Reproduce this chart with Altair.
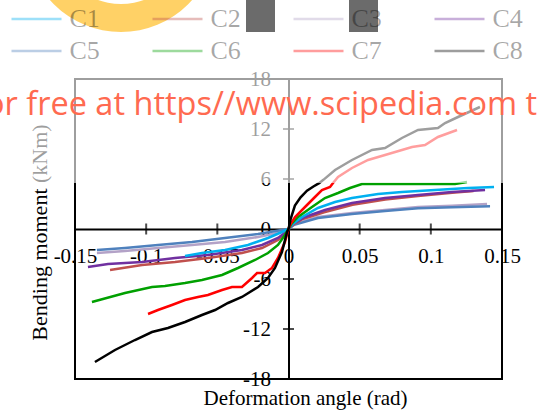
import altair as alt
import pandas as pd

SERIF = "Liberation Serif"

names = ["C1", "C2", "C3", "C4", "C5", "C6", "C7", "C8"]
colors = ["#00B0F0", "#C0504D", "#B3A2C7", "#7030A0", "#4F81BD", "#00A000", "#FF0000", "#000000"]
draw_order = ["C3", "C5", "C2", "C4", "C1", "C6", "C7", "C8"]

x_tick_labels = [-0.15, -0.1, -0.05, 0, 0.05, 0.1, 0.15]
y_tick_labels = [-18, -12, -6, 0, 6, 12, 18]
x_cross_ticks = [-0.1, -0.05, 0.05, 0.1]
y_cross_ticks = [-12, -6, 6, 12]

c1_x = [-0.0727, -0.0608, -0.0446, -0.0285, -0.0144, -0.0046, 0, 0.003, 0.0095, 0.0207, 0.0327, 0.0446, 0.0629, 0.0797, 0.1029, 0.1261, 0.1444]
c1_y = [-3.24, -2.88, -2.52, -1.92, -1.08, -0.36, 0, 0.6, 1.44, 2.52, 3.24, 3.72, 4.2, 4.44, 4.68, 4.92, 5.04]

c2_x = [-0.1254, -0.1029, -0.0797, -0.0566, -0.0327, -0.0186, -0.0074, -0.002, 0, 0.003, 0.01, 0.025, 0.045, 0.068, 0.091, 0.115, 0.13]
c2_y = [-4.92, -4.32, -3.96, -3.48, -2.88, -2.28, -1.32, -0.5, 0, 0.5, 1.2, 2.0, 2.9, 3.55, 3.95, 4.35, 4.55]

c3_x = [-0.1346, -0.1149, -0.0917, -0.0678, -0.0446, -0.0214, -0.0046, 0, 0.004, 0.0207, 0.0446, 0.0678, 0.091, 0.1149, 0.1395]
c3_y = [-2.88, -2.64, -2.28, -1.92, -1.56, -0.96, -0.36, 0, 0.6, 1.44, 1.92, 2.28, 2.64, 2.8, 3.0]

c4_x = [-0.1409, -0.1268, -0.1029, -0.0797, -0.0566, -0.0327, -0.0186, -0.0074, -0.002, 0, 0.003, 0.0116, 0.0256, 0.0446, 0.0678, 0.091, 0.1149, 0.1381]
c4_y = [-4.56, -4.2, -3.96, -3.48, -3.12, -2.52, -1.92, -1.08, -0.4, 0, 0.6, 1.44, 2.28, 3.12, 3.72, 4.08, 4.44, 4.68]

c5_x = [-0.1346, -0.1149, -0.0917, -0.0678, -0.0446, -0.0214, -0.0046, 0, 0.004, 0.0207, 0.0446, 0.0678, 0.091, 0.1149, 0.1416]
c5_y = [-2.52, -2.28, -1.92, -1.56, -1.08, -0.6, -0.12, 0, 0.5, 1.32, 1.8, 2.16, 2.5, 2.62, 2.72]

c6_x = [-0.1381, -0.1149, -0.0959, -0.0868, -0.0727, -0.0608, -0.0467, -0.0355, -0.0235, -0.0144, -0.0074, -0.0025, 0, 0.002, 0.0067, 0.0165, 0.0256, 0.0348, 0.0432, 0.0516, 0.0678, 0.091, 0.117, 0.1254]
c6_y = [-8.76, -7.68, -6.96, -6.84, -6.48, -6.12, -5.52, -4.68, -3.72, -2.88, -1.92, -0.72, 0, 0.6, 1.44, 2.64, 3.72, 4.32, 4.92, 5.4, 5.4, 5.4, 5.4, 5.64]

c7_x = [-0.0987, -0.0917, -0.0819, -0.0727, -0.0636, -0.0566, -0.0467, -0.0397, -0.0327, -0.0256, -0.0221, -0.0165, -0.0116, -0.0074, -0.0025, 0, 0.0015, 0.0046, 0.0116, 0.0186, 0.0235, 0.0292, 0.0313, 0.0348, 0.0446, 0.0559, 0.0678, 0.0797, 0.0868, 0.0959, 0.105, 0.1184]
c7_y = [-10.2, -9.72, -9.12, -8.52, -8.16, -7.92, -7.32, -6.96, -6.96, -5.88, -5.28, -5.28, -4.68, -3.48, -1.56, 0, 0.6, 1.44, 2.64, 3.84, 4.68, 5.04, 5.52, 6.24, 7.32, 8.28, 8.88, 9.48, 9.84, 10.08, 11.04, 11.88]

c8_x = [-0.136, -0.1219, -0.1079, -0.0959, -0.0847, -0.0727, -0.0608, -0.0516, -0.0425, -0.0327, -0.0214, -0.0144, -0.0095, -0.0046, -0.001, 0, 0.0015, 0.0045, 0.0085, 0.013, 0.0175, 0.0215, 0.0245, 0.0327, 0.0446, 0.0587, 0.0678, 0.0797, 0.091, 0.105, 0.11, 0.1191, 0.1345]
c8_y = [-15.96, -14.52, -13.32, -12.36, -11.88, -11.16, -10.32, -9.72, -8.88, -8.16, -6.96, -5.88, -4.68, -2.76, -0.36, 0, 1.2, 2.8, 3.8, 4.6, 5.1, 5.5, 5.9, 7.08, 8.28, 9.48, 9.72, 10.92, 11.88, 12.12, 12.72, 13.44, 14.64]

series_x = [c1_x, c2_x, c3_x, c4_x, c5_x, c6_x, c7_x, c8_x]
series_y = [c1_y, c2_y, c3_y, c4_y, c5_y, c6_y, c7_y, c8_y]

rows = []
for nm, xs, ys in zip(names, series_x, series_y):
    for a, b in zip(xs, ys):
        rows.append({"series": nm, "x": a, "y": b})
df = pd.DataFrame(rows)

xt_df = pd.DataFrame({"x": x_cross_ticks, "y": [0] * len(x_cross_ticks)})
yt_df = pd.DataFrame({"x": [0] * len(y_cross_ticks), "y": y_cross_ticks})
one = pd.DataFrame({"k": [0]})

x_axis = alt.Axis(
    orient="bottom", offset=-150, values=x_tick_labels, labelExpr="'' + datum.value",
    ticks=False, tickSize=0, grid=False, domainColor="black", domainWidth=2,
    labelFont=SERIF, labelFontSize=21, labelColor="black", labelPadding=16,
    labelFlush=False, labelOverlap=False,
    title="Deformation angle (rad)", titleFont=SERIF, titleFontSize=21,
    titleFontWeight="normal", titleColor="black", titleX=230, titleY=175,
    titleBaseline="alphabetic", titleAlign="center",
)
y_axis = alt.Axis(
    orient="left", offset=-213.5, values=y_tick_labels, labelExpr="'' + datum.value",
    ticks=False, tickSize=0, grid=False, domainColor="black", domainWidth=2,
    labelFont=SERIF, labelFontSize=21, labelColor="black", labelPadding=18,
    labelFlush=False, labelOverlap=False,
    title="Bending moment (kNm)", titleFont=SERIF, titleFontSize=22,
    titleFontWeight="normal", titleColor="black", titleX=-242, titleY=153,
    titleBaseline="alphabetic", titleAlign="center", titleAngle=270,
)

x_enc = alt.X("x:Q", scale=alt.Scale(domain=[-0.15, 0.15], nice=False, zero=False), axis=x_axis)
y_enc = alt.Y("y:Q", scale=alt.Scale(domain=[-18, 18], nice=False, zero=False), axis=y_axis)

legend = alt.Legend(
    orient="none", legendX=-65, legendY=-74, direction="horizontal", columns=4,
    symbolType="M-2,0H2", symbolSize=625, symbolOffset=12.5, symbolStrokeWidth=2.5,
    symbolOpacity=0.38,
    labelFont=SERIF, labelFontSize=26, labelColor="black", labelOpacity=0.35,
    labelOffset=19, columnPadding=47, rowPadding=5, title=None, padding=0,
)
color = alt.Color("series:N", scale=alt.Scale(domain=names, range=colors), legend=legend)

layers = []
for s in draw_order:
    layers.append(
        alt.Chart(df).transform_filter(alt.datum.series == s)
        .mark_line(strokeWidth=2.5)
        .encode(x=x_enc, y=y_enc, color=color, order="x:Q")
    )

layers.append(alt.Chart(xt_df).mark_tick(orient="vertical", size=11, thickness=2, color="black")
              .encode(x=x_enc, y=y_enc))
layers.append(alt.Chart(yt_df).mark_tick(orient="horizontal", size=11, thickness=2, color="black")
              .encode(x=x_enc, y=y_enc))

# faded upper band of the scan
layers.append(alt.Chart(one).mark_rect(color="white", opacity=0.62)
              .encode(x=alt.value(-80), x2=alt.value(490), y=alt.value(-85), y2=alt.value(104)))
# yellow ring fragment
layers.append(alt.Chart(one).mark_arc(color="#FFB300", opacity=0.6, theta=0, theta2=6.2832,
                                      radius=95, radius2=67)
              .encode(x=alt.value(46), y=alt.value(-142)))
# dark squares
layers.append(alt.Chart(one).mark_rect(color="black", opacity=0.58)
              .encode(x=alt.value(171), x2=alt.value(200), y=alt.value(-85), y2=alt.value(-47)))
layers.append(alt.Chart(one).mark_rect(color="black", opacity=0.58)
              .encode(x=alt.value(274), x2=alt.value(303), y=alt.value(-85), y2=alt.value(-47)))
# watermark
layers.append(alt.Chart(one).mark_text(text="for free at https//www.scipedia.com t", font="Open Sans",
                                       fontSize=32.5, color="#ff6a50", align="left", baseline="alphabetic")
              .encode(x=alt.value(-101), y=alt.value(36)))

chart = alt.layer(*layers).properties(
    width=427, height=300,
    padding={"left": 75, "top": 79, "right": 53, "bottom": 37},
    autosize=alt.AutoSizeParams(type="none"),
).configure_view(stroke="black", strokeWidth=2)

chart.save("out.html", embed_options={"renderer": "svg", "actions": False})
